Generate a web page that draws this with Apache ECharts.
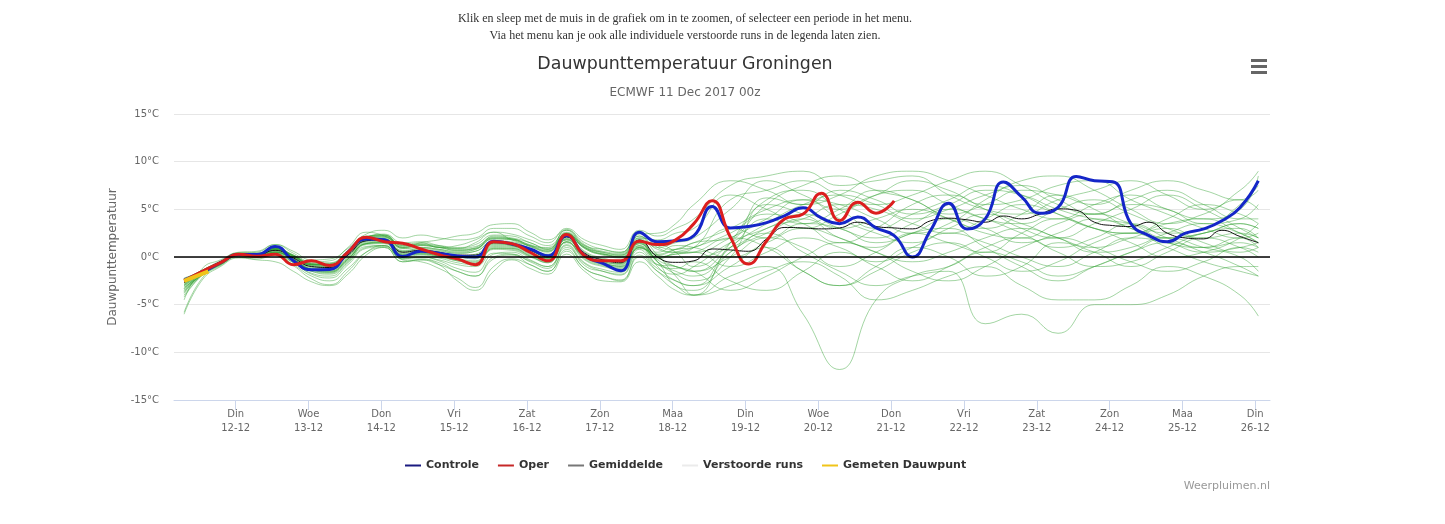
<!DOCTYPE html>
<html>
<head>
<meta charset="utf-8">
<script src="https://cdn.jsdelivr.net/npm/echarts@6/dist/echarts.min.js"></script>
<style>
  html, body { margin: 0; padding: 0; background: #fff; }
  #chart { width: 1445px; height: 524px; }
</style>
</head>
<body>
<div id="chart"></div>
<script>
// x-as: uren na 11 dec 00:00 (tijden zoals in de grafiek getoond)
const tickHours = [24, 48, 72, 96, 120, 144, 168, 192, 216, 240, 264, 288, 312, 336, 360];
const tickLabels = ['Din\n12-12', 'Woe\n13-12', 'Don\n14-12', 'Vri\n15-12', 'Zat\n16-12', 'Zon\n17-12', 'Maa\n18-12',
  'Din\n19-12', 'Woe\n20-12', 'Don\n21-12', 'Vri\n22-12', 'Zat\n23-12', 'Zon\n24-12', 'Maa\n25-12', 'Din\n26-12'];

const mainHours = [7, 13, 19, 25, 31, 37, 43, 49, 55, 61, 67, 73, 79, 85, 91, 97, 103, 109, 115, 121,
  127, 133, 139, 145, 151, 157, 163, 169, 175, 181, 187, 193, 199, 205, 211, 217, 223, 229, 235, 241,
  247, 253, 259, 265, 271, 277, 283, 289, 295, 301, 307, 313, 319, 325, 331, 337, 343, 349, 355, 361];

const controle = [-2.4, -1.6, -0.6, 0.25, 0.25, 1.1, -0.4, -1.35, -1.3, 0.5,
  1.9, 1.8, 0.05, 0.6, 0.4, 0.1, 0.0, 1.65, 1.37, 0.84,
  0.14, 2.25, 0.14, -0.67, -1.44, 2.6, 1.6, 1.7, 2.25, 5.3,
  3.05, 3.2, 3.6, 4.35, 5.16, 4.1, 3.5, 4.2, 3.05, 2.25,
  0.0, 2.8, 5.65, 2.95, 4.0, 7.86, 6.3, 4.6, 5.2, 8.45,
  8.0, 7.9, 3.5, 2.25, 1.6, 2.5, 2.95, 3.8, 5.2, 8.0];

// oper loopt tot 241 uur
const oper = [-2.5, -1.5, -0.6, 0.3, 0.07, 0.3, -0.8, -0.4, -0.9, 0.5,
  2.07, 1.6, 1.45, 0.84, 0.25, -0.2, -0.8, 1.6, 1.4, 0.5,
  -0.4, 2.35, 0.14, -0.4, -0.4, 1.65, 1.3, 1.8, 3.5, 5.9,
  2.1, -0.74, 1.7, 4.0, 4.5, 6.7, 3.8, 5.75, 4.6, 5.9];

const gemiddelde = [-2.7, -1.6, -0.6, 0.25, 0.2, 0.7, -0.1, -1.0, -1.1, 0.2,
  1.7, 1.8, 0.5, 0.7, 0.5, 0.2, 0.2, 1.5, 1.3, 0.7,
  0.0, 2.1, 0.4, -0.3, -0.6, 1.8, 0.0, -0.56, -0.4, 0.84,
  0.74, 0.6, 1.9, 3.1, 3.05, 2.95, 3.05, 3.65, 3.2, 3.05,
  2.95, 3.8, 4.07, 3.9, 3.65, 4.3, 4.0, 4.5, 5.05, 4.9,
  3.65, 3.3, 3.2, 3.65, 2.5, 2.0, 1.9, 2.8, 2.15, 1.5];

const gemetenHours = [7, 11, 15];
const gemeten = [-2.5, -2.0, -1.5];

// verstoorde runs: 6-uurs stappen t/m 175 uur, daarna 12-uurs
const memberHours = [7, 13, 19, 25, 31, 37, 43, 49, 55, 61, 67, 73, 79, 85, 91, 97, 103, 109, 115, 121,
  127, 133, 139, 145, 151, 157, 163, 169, 175,
  187, 199, 211, 223, 235, 247, 259, 271, 283, 295, 307, 319, 331, 343, 355, 361];

const run01 = [-2.4,-1.4,-0.5,0.4,0.4,0.9,0.2,-0.7,-0.8,0.6,2.1,2.3,1.1,1.3,1.1,0.8,0.9,2.2,2.0,1.5,0.8,2.9,1.3,0.6,0.4,2.6,1.2,0.8,1.5,
  2.0,6.2,5.5,7.0,6.0,4.5,5.5,7.0,6.5,5.0,4.0,3.5,2.5,3.0,5.5,7.5];
const run02 = [-3.2,-1.9,-0.8,0.1,0.0,0.4,-0.5,-1.5,-1.7,-0.4,1.1,1.2,-0.2,0.0,-0.3,-0.8,-1.0,0.4,0.3,-0.4,-1.0,1.0,-0.7,-1.5,-1.9,0.5,-1.2,-1.8,-1.0,
  1.5,3.0,4.5,3.0,2.0,3.5,5.0,4.0,2.5,1.0,2.0,3.5,2.0,1.0,1.5,1.0];
const run03 = [-4.5,-1.2,-0.3,0.5,0.6,1.3,0.4,-0.5,-0.4,1.0,2.6,2.2,1.3,1.5,1.0,1.2,1.8,2.6,1.8,1.2,1.0,2.8,1.2,0.8,0.5,2.2,1.0,1.5,2.0,
  5.0,8.0,6.5,5.0,6.5,8.0,7.0,5.5,6.0,7.5,8.0,6.0,4.5,3.0,2.0,2.5];
const run04 = [-2.2,-1.5,-0.6,0.3,0.1,0.2,-0.8,-2.0,-2.5,-1.2,0.5,1.0,-0.5,-0.3,-0.8,-1.5,-2.0,-0.2,0.2,-0.8,-1.5,0.8,-1.2,-2.0,-2.5,0.0,-1.5,-2.5,-3.0,
  -1.0,1.0,-1.5,-3.0,-1.0,1.0,0.0,-2.0,-1.0,1.5,0.5,-1.0,0.5,2.0,1.0,0.0];
const run05 = [-3.0,-1.6,-0.5,0.3,0.3,0.9,0.1,-0.8,-0.7,0.6,2.0,2.4,1.5,1.6,1.2,0.9,1.5,2.6,2.4,1.8,1.2,2.6,1.2,0.5,0.3,2.0,1.5,0.5,-1.0,
  1.5,5.5,7.5,8.5,7.0,6.0,4.0,3.0,4.5,6.5,5.0,3.0,2.0,2.5,3.5,3.0];
const run06 = [-3.6,-1.8,-0.7,0.2,0.1,0.5,-0.3,-1.3,-1.6,-0.2,1.4,1.5,0.3,0.4,0.1,-0.3,-0.5,1.0,0.9,0.2,-0.4,1.6,0.0,-0.6,-1.0,1.2,-0.2,0.5,1.0,
  2.5,4.5,3.5,1.5,3.0,5.5,6.5,5.0,3.0,2.0,3.5,5.0,6.5,5.0,3.0,2.0];
const run07 = [-2.6,-1.5,-0.5,0.3,0.3,0.8,0.0,-0.8,-0.9,0.5,1.9,2.1,1.0,1.5,1.8,2.2,2.5,3.4,3.5,2.6,1.8,2.8,1.5,0.8,0.5,2.5,1.0,0.5,0.5,
  2.0,4.0,6.0,5.5,4.0,2.5,3.5,6.0,8.0,8.5,7.0,5.0,3.5,4.5,6.0,5.0];
const run08 = [-5.8,-2.2,-0.9,0.0,-0.2,0.2,-0.9,-2.3,-2.9,-1.5,0.5,1.2,-0.3,-0.5,-1.2,-2.2,-3.2,-1.0,-0.2,-0.8,-1.5,0.6,-1.2,-2.0,-2.4,0.2,-1.5,-3.0,-4.0,
  -2.0,-1.0,-6.0,-11.8,-4.5,-2.0,-1.0,0.5,-0.5,-2.0,-1.0,0.5,1.5,0.5,-1.0,-2.0];
const run09 = [-2.9,-1.5,-0.5,0.4,0.5,1.3,0.6,-0.3,-0.2,0.9,2.4,2.8,2.0,2.3,2.0,1.8,2.0,3.0,3.0,2.2,1.5,3.0,1.8,1.2,0.8,2.8,2.2,3.0,4.0,
  7.5,8.5,9.0,7.5,8.0,8.5,6.5,5.0,4.5,6.0,7.0,8.0,6.5,5.0,7.0,9.0];
const run10 = [-3.3,-1.7,-0.7,0.2,0.2,0.6,-0.2,-1.1,-1.2,0.1,1.6,1.7,0.4,0.6,0.4,0.1,0.3,1.4,1.2,0.5,-0.1,1.9,0.3,-0.5,-0.7,1.5,0.0,0.3,0.5,
  -1.0,0.5,2.0,1.0,-0.5,1.0,2.5,1.5,0.0,-1.0,0.5,2.0,1.5,0.5,1.0,1.5];
const run11 = [-2.4,-1.4,-0.5,0.3,0.3,0.8,0.1,-0.8,-0.8,0.5,2.0,2.0,0.9,1.0,0.8,0.5,0.8,1.9,1.8,1.1,0.6,2.4,0.9,0.2,-0.1,1.6,-0.5,-1.5,-2.0,
  0.5,3.0,4.0,5.5,5.0,3.5,2.5,4.0,5.5,4.5,3.0,2.5,3.5,4.0,2.5,1.5];
const run12 = [-4.0,-1.9,-0.8,0.1,0.0,0.3,-0.6,-1.8,-2.2,-0.8,0.9,1.1,-0.2,-0.2,-0.6,-1.5,-2.0,0.0,0.3,-0.5,-1.2,1.2,-0.9,-1.5,-1.8,0.8,-0.8,-1.0,-1.5,
  0.0,2.0,1.0,-1.0,0.5,2.5,3.0,1.0,-1.0,-2.5,-1.0,0.5,2.0,1.0,0.0,-1.5];
const run13 = [-2.7,-1.5,-0.5,0.3,0.2,0.7,0.0,-0.9,-1.0,0.3,1.8,1.9,0.7,0.8,0.6,0.4,0.6,1.7,1.6,0.9,0.3,2.3,0.6,-0.1,-0.4,1.5,-0.3,-1.0,-1.5,
  1.0,4.0,3.0,4.5,6.5,7.0,5.5,4.0,3.5,5.0,6.0,4.5,3.0,2.0,2.5,2.0];
const run14 = [-3.1,-1.7,-0.6,0.2,0.2,0.5,-0.3,-1.3,-1.5,-0.2,1.4,1.6,0.2,0.4,0.1,-0.2,-0.4,1.1,1.0,0.3,-0.3,1.8,0.0,-0.7,-0.9,1.4,0.2,0.8,1.5,
  3.0,5.0,6.0,4.0,2.5,1.5,3.0,4.5,3.5,2.0,1.0,2.0,3.0,1.5,0.5,1.0];
const run15 = [-3.5,-1.8,-0.7,0.2,0.2,0.9,0.2,-0.7,-0.7,0.6,2.1,2.3,1.2,1.3,1.0,0.9,1.1,2.1,1.9,1.3,0.8,2.5,1.1,0.4,0.0,1.2,-1.0,-2.5,-3.0,
  1.0,3.5,5.5,6.5,5.5,4.0,5.0,6.5,7.5,6.0,4.5,5.5,5.0,3.5,4.0,5.5];
const run16 = [-2.3,-1.4,-0.5,0.3,0.3,0.6,-0.2,-1.2,-1.3,0.0,1.7,1.9,0.6,0.7,0.4,0.1,0.0,1.3,1.2,0.5,-0.2,1.9,0.2,-0.6,-1.0,1.0,-0.8,-1.2,-0.5,
  -2.5,-3.5,-1.5,0.5,-1.0,-2.5,-1.0,1.0,2.0,0.5,-1.0,-0.5,1.0,2.5,3.0,2.0];
const run17 = [-3.8,-1.8,-0.8,0.1,0.1,0.4,-0.4,-1.5,-1.8,-0.5,1.3,1.4,0.0,0.2,-0.1,-0.6,-0.8,0.8,0.7,0.0,-0.6,1.5,-0.3,-1.0,-1.3,1.0,0.3,0.8,1.0,
  3.0,2.0,3.5,3.0,1.5,2.5,4.0,3.0,1.5,2.5,4.0,3.0,1.5,1.0,2.0,1.0];
const run18 = [-2.6,-1.5,-0.5,0.3,0.3,0.8,0.1,-0.8,-0.9,0.5,2.0,2.2,1.0,1.2,1.0,0.7,1.0,2.0,1.9,1.2,0.7,2.5,1.0,0.3,0.1,2.2,0.8,0.5,1.0,
  6.0,7.0,8.0,6.5,5.5,6.5,8.0,9.0,7.5,5.5,4.5,6.0,7.0,5.5,4.0,4.0];
const run19 = [-3.0,-1.7,-0.6,0.2,0.2,0.7,-0.1,-1.0,-1.1,0.2,1.7,1.8,0.5,0.6,0.4,0.1,0.2,1.4,1.2,0.6,-0.1,2.0,0.3,-0.4,-0.7,1.6,0.2,0.0,0.0,
  1.0,2.5,0.5,-1.5,-3.0,-2.0,-1.5,-7.0,-6.0,-8.0,-5.0,-5.0,-4.0,-2.0,-1.0,-1.0];
const run20 = [-6.0,-2.4,-1.0,-0.1,-0.3,-0.5,-1.5,-2.6,-3.0,-1.8,0.2,1.0,-0.5,-0.3,-0.8,-2.5,-3.5,-1.5,-0.3,-1.2,-1.8,0.3,-1.5,-2.5,-2.6,-0.5,-2.0,-3.5,-4.0,
  -3.0,-1.5,-0.5,-2.0,-4.5,-3.5,-2.0,-1.0,-3.0,-4.5,-4.5,-3.0,-1.0,-2.0,-4.0,-6.2];
const run21 = [-2.8,-1.6,-0.6,0.3,0.2,0.8,0.0,-0.9,-1.0,0.4,1.8,1.9,0.6,0.9,0.7,0.4,0.6,1.6,1.5,0.8,0.2,2.2,0.5,-0.2,-0.5,1.4,-0.5,-1.8,-2.5,
  0.0,5.5,4.5,3.0,4.0,5.0,4.0,2.5,2.0,3.5,4.5,3.5,2.0,2.5,3.5,3.0];
const run22 = [-3.4,-1.8,-0.7,0.2,0.1,0.5,-0.2,-1.3,-1.4,-0.1,1.5,1.6,0.3,0.5,0.3,0.0,-0.2,1.2,1.1,0.4,-0.2,1.8,0.2,-0.5,-0.8,2.0,1.8,2.5,3.0,
  6.5,5.0,3.5,5.0,7.0,6.0,4.5,5.5,7.0,6.5,5.5,7.0,8.0,7.0,6.0,7.0];
const run23 = [-2.5,-1.4,-0.5,0.4,0.4,0.9,0.2,-0.6,-0.6,0.7,2.2,2.3,1.2,1.4,1.2,1.0,1.3,2.3,2.2,1.5,0.9,2.4,1.0,0.5,0.2,1.6,0.0,-1.0,-1.5,
  -3.5,-2.0,0.0,1.5,0.5,-1.5,-2.5,-1.0,1.0,2.0,1.0,-0.5,-1.5,-0.5,1.0,0.5];
const run24 = [-4.2,-1.9,-0.8,0.1,0.0,0.3,-0.6,-1.7,-2.0,-0.6,1.0,1.2,-0.1,0.0,-0.4,-1.2,-1.6,0.3,0.5,-0.3,-1.0,1.3,-0.6,-1.3,-1.6,1.0,-0.5,-3.0,-3.5,
  0.5,2.5,4.0,2.0,1.0,2.5,1.5,0.5,2.5,4.0,3.0,1.5,0.0,0.5,2.0,3.5];
const run25 = [-2.9,-1.6,-0.5,0.3,0.3,0.8,0.1,-0.8,-0.8,0.6,2.0,2.1,0.9,1.0,0.8,0.6,0.8,1.9,1.8,1.1,0.5,2.4,0.9,0.3,0.2,2.4,2.5,3.5,5.5,
  8.0,7.0,5.5,6.5,8.5,9.0,8.0,6.5,5.0,4.0,5.5,6.5,5.0,4.0,5.0,8.5];
const run26 = [-3.3,-1.7,-0.7,0.2,0.1,0.5,-0.3,-1.3,-1.5,-0.2,1.4,1.5,0.2,0.3,0.1,-0.4,-0.6,0.9,0.8,0.1,-0.5,1.6,-0.1,-0.8,-1.1,1.1,0.0,0.3,0.5,
  2.0,1.0,-1.5,-3.0,-1.5,0.5,1.5,0.0,-1.5,-0.5,1.5,2.5,1.0,-0.5,-1.5,-2.0];
const run27 = [-2.4,-1.4,-0.4,0.4,0.3,0.9,0.1,-0.7,-0.8,0.5,2.0,2.2,1.0,1.2,1.0,0.7,0.9,2.0,1.9,1.2,0.6,2.5,1.0,0.3,0.0,1.9,0.2,-2.0,-4.0,
  1.5,6.0,7.0,5.0,3.0,4.5,6.0,7.5,6.5,4.5,3.0,2.5,4.0,5.5,4.5,3.5];
const run28 = [-3.7,-1.8,-0.7,0.2,0.1,0.5,-0.3,-1.4,-1.6,-0.3,1.4,1.5,0.1,0.3,0.0,-0.4,-0.7,0.9,0.9,0.1,-0.6,1.6,-0.2,-0.9,-1.2,0.9,0.5,1.2,1.0,
  0.0,1.5,3.0,2.0,0.5,-0.5,0.5,2.0,3.0,2.0,0.5,1.0,2.5,3.5,2.5,1.5];

const runs = [run01, run02, run03, run04, run05, run06, run07, run08, run09, run10, run11, run12, run13, run14,
  run15, run16, run17, run18, run19, run20, run21, run22, run23, run24, run25, run26, run27, run28];

const pairs = (hours, vals) => vals.map((v, i) => [hours[i], v]);

const chart = echarts.init(document.getElementById('chart'));

const runSeries = runs.map(r => ({
  name: 'Verstoorde runs',
  type: 'line',
  data: pairs(memberHours, r),
  smooth: true,
  showSymbol: false,
  silent: true,
  itemStyle: { color: '#e6e6e6' },
  lineStyle: { width: 1, color: 'rgba(45,160,45,0.44)' },
  emphasis: { disabled: true }
}));

chart.setOption({
  animation: false,
  grid: { left: 174, right: 175, top: 114, bottom: 124 },
  xAxis: {
    type: 'value',
    min: 3.67,
    max: 364.85,
    axisLine: { onZero: false, lineStyle: { color: '#ccd6eb', width: 1 } },
    axisTick: { customValues: tickHours, length: 10, lineStyle: { color: '#ccd6eb' } },
    axisLabel: {
      customValues: tickHours,
      formatter: v => tickLabels[tickHours.indexOf(v)] || '',
      color: '#666', fontFamily: 'DejaVu Sans', fontSize: 10, lineHeight: 14, margin: 7
    },
    splitLine: { show: false }
  },
  yAxis: {
    type: 'value',
    min: -15,
    max: 15,
    interval: 5,
    name: 'Dauwpunttemperatuur',
    nameLocation: 'middle',
    nameRotate: 90,
    nameGap: 55,
    nameTextStyle: { color: '#666', fontFamily: 'DejaVu Sans', fontSize: 12 },
    axisLine: { show: false },
    axisTick: { show: false },
    axisLabel: { formatter: '{value}°C', color: '#666', fontFamily: 'DejaVu Sans', fontSize: 10, margin: 15 },
    splitLine: { lineStyle: { color: '#e6e6e6', width: 1 } }
  },
  legend: {
    left: 405,
    top: 460,
    padding: 0,
    icon: 'rect',
    itemWidth: 16,
    itemHeight: 2,
    itemGap: 19,
    selectedMode: false,
    textStyle: { color: '#333', fontFamily: 'DejaVu Sans', fontWeight: 'bold', fontSize: 11 },
    data: [
      { name: 'Controle', itemStyle: { color: '#1a1a80' } },
      { name: 'Oper', itemStyle: { color: '#c62828' } },
      { name: 'Gemiddelde', itemStyle: { color: '#777' } },
      { name: 'Verstoorde runs', itemStyle: { color: '#ebebeb' } },
      { name: 'Gemeten Dauwpunt', itemStyle: { color: '#f0c419' } }
    ]
  },
  graphic: [
    { type: 'text', x: 685, y: 19, style: { text: 'Klik en sleep met de muis in de grafiek om in te zoomen, of selecteer een periode in het menu.', fill: '#333', fontFamily: 'Liberation Serif', fontSize: 12, textAlign: 'center', textVerticalAlign: 'middle' } },
    { type: 'text', x: 685, y: 36, style: { text: 'Via het menu kan je ook alle individuele verstoorde runs in de legenda laten zien.', fill: '#333', fontFamily: 'Liberation Serif', fontSize: 12, textAlign: 'center', textVerticalAlign: 'middle' } },
    { type: 'text', x: 685, y: 64, style: { text: 'Dauwpunttemperatuur Groningen', fill: '#333', fontFamily: 'DejaVu Sans', fontSize: 17.4, textAlign: 'center', textVerticalAlign: 'middle' } },
    { type: 'text', x: 685, y: 93, style: { text: 'ECMWF 11 Dec 2017 00z', fill: '#666', fontFamily: 'DejaVu Sans', fontSize: 12, textAlign: 'center', textVerticalAlign: 'middle' } },
    { type: 'text', x: 1270, y: 486, style: { text: 'Weerpluimen.nl', fill: '#999', fontFamily: 'DejaVu Sans', fontSize: 11, textAlign: 'right', textVerticalAlign: 'middle' } },
    // menu-knop
    { type: 'rect', shape: { x: 1251, y: 59, width: 16, height: 3 }, style: { fill: '#666' } },
    { type: 'rect', shape: { x: 1251, y: 65, width: 16, height: 3 }, style: { fill: '#666' } },
    { type: 'rect', shape: { x: 1251, y: 71, width: 16, height: 3 }, style: { fill: '#666' } }
  ],
  series: [
    ...runSeries,
    {
      name: 'Gemiddelde',
      type: 'line',
      data: pairs(mainHours, gemiddelde),
      smooth: true,
      showSymbol: false,
      lineStyle: { width: 1, color: '#111' },
      itemStyle: { color: '#777' },
      markLine: {
        silent: true,
        symbol: 'none',
        label: { show: false },
        lineStyle: { color: '#000', width: 1.5, type: 'solid' },
        data: [{ yAxis: 0 }]
      }
    },
    {
      name: 'Controle',
      type: 'line',
      data: pairs(mainHours, controle),
      smooth: true,
      showSymbol: false,
      lineStyle: { width: 3, color: '#1426c8' },
      itemStyle: { color: '#1a1a80' }
    },
    {
      name: 'Oper',
      type: 'line',
      data: pairs(mainHours, oper),
      smooth: true,
      showSymbol: false,
      lineStyle: { width: 3, color: '#dc1e1e' },
      itemStyle: { color: '#c62828' }
    },
    {
      name: 'Gemeten Dauwpunt',
      type: 'line',
      data: pairs(gemetenHours, gemeten),
      smooth: true,
      showSymbol: false,
      lineStyle: { width: 4, color: '#f0c419' },
      itemStyle: { color: '#f0c419' }
    }
  ]
});
</script>
</body>
</html>
